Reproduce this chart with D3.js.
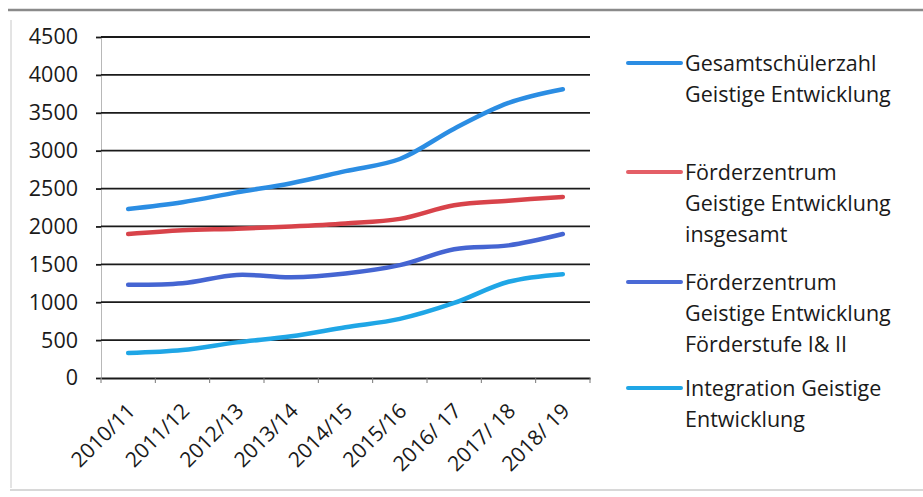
<!DOCTYPE html>
<html><head><meta charset="utf-8">
<script src="https://cdn.jsdelivr.net/npm/d3@7"></script>
<style>
html,body{margin:0;padding:0;background:#fff;}
svg{display:block;}
text{font-family:"Open Sans","Noto Sans",sans-serif;fill:#1a1a1a;}
</style></head>
<body><svg id="c" width="923" height="497"></svg>
<script>
const categories = ["2010/11","2011/12","2012/13","2013/14","2014/15","2015/16","2016/ 17","2017/ 18","2018/ 19"];
const gesamt      = [2230, 2320, 2450, 2570, 2730, 2890, 3290, 3630, 3810];
const fzInsgesamt = [1900, 1950, 1970, 2000, 2040, 2100, 2280, 2340, 2390];
const fzStufe     = [1230, 1250, 1360, 1330, 1380, 1490, 1700, 1750, 1900];
const integration = [ 330,  370,  470,  550,  670,  780,  990, 1270, 1370];
const yTicks = [0,500,1000,1500,2000,2500,3000,3500,4000,4500];
const seriesNames = [
  ["Gesamtschülerzahl","Geistige Entwicklung"],
  ["Förderzentrum","Geistige Entwicklung","insgesamt"],
  ["Förderzentrum","Geistige Entwicklung","Förderstufe I& II"],
  ["Integration Geistige","Entwicklung"]
];
const seriesColors = ["#2b8de3","#d8434a","#4565d2","#1fa6e6"];
const legendColors = ["#2b8de3","#e45f67","#4a6ad6","#1fa6e6"];
const seriesData = [gesamt, fzInsgesamt, fzStufe, integration];

const svg = d3.select("#c");
// frame
svg.append("line").attr("x1",8).attr("x2",923).attr("y1",10).attr("y2",10).attr("stroke","#8a8a8a").attr("stroke-width",2.5);
svg.append("line").attr("x1",11).attr("x2",11).attr("y1",20).attr("y2",488).attr("stroke","#c8c8c8").attr("stroke-width",1);
svg.append("line").attr("x1",10).attr("x2",923).attr("y1",490).attr("y2",490).attr("stroke","#d8d8d8").attr("stroke-width",2);

const x = d3.scaleBand().domain(categories).range([101,590]);
const y = d3.scaleLinear().domain([0,4500]).range([378,37]);

// grid + y axis
const yAxis = d3.axisLeft(y).tickValues(yTicks).tickFormat(d3.format("d")).tickSize(5).tickPadding(18);
const gy = svg.append("g").attr("transform","translate(101,0)").call(yAxis);
gy.select(".domain").attr("stroke","#b8b8b8").attr("stroke-width",1);
gy.selectAll(".tick line").attr("stroke","#1a1a1a").attr("stroke-width",1.8);
gy.selectAll(".tick text").attr("font-size",21.5).attr("fill","#1a1a1a").attr("font-family","Open Sans");
svg.append("g").selectAll("line").data(yTicks.filter(d=>d>0)).join("line")
  .attr("x1",101).attr("x2",590).attr("y1",d=>y(d)).attr("y2",d=>y(d))
  .attr("stroke","#1a1a1a").attr("stroke-width",1.8);

// x axis
const gx = svg.append("g").attr("transform","translate(0,378)").call(d3.axisBottom(x).tickSize(0).tickPadding(0));
gx.select(".domain").attr("stroke","#1a1a1a").attr("stroke-width",1.8);
gx.selectAll(".tick text").attr("font-size",21).attr("text-anchor","end")
  .attr("transform","translate(3,29) rotate(-45)").attr("dy","0.35em").attr("fill","#1a1a1a");
// band boundary ticks
const bounds = categories.map(c=>x(c)).concat([x.range()[1]]);
svg.append("g").selectAll("line").data(bounds).join("line")
  .attr("x1",d=>d).attr("x2",d=>d).attr("y1",378).attr("y2",383)
  .attr("stroke","#777").attr("stroke-width",1);

// lines
const line = d3.line().x((d,i)=>x(categories[i])+x.bandwidth()/2).y(d=>y(d)).curve(d3.curveCatmullRom.alpha(0.5));
seriesData.forEach((s,k)=>{
  svg.append("path").datum(s).attr("d",line).attr("fill","none")
    .attr("stroke",seriesColors[k]).attr("stroke-width",4.5).attr("stroke-linecap","round").attr("stroke-linejoin","round");
});

// legend
const legendY = [63,172,282,388];
const lg = svg.append("g");
seriesNames.forEach((lines,k)=>{
  lg.append("line").attr("x1",628).attr("x2",681).attr("y1",legendY[k]).attr("y2",legendY[k])
    .attr("stroke",legendColors[k]).attr("stroke-width",4).attr("stroke-linecap","round");
  lines.forEach((t,j)=>{
    lg.append("text").attr("x",685).attr("y",legendY[k]+j*31).attr("dy","0.35em")
      .attr("font-size",21.5).text(t);
  });
});
</script></body></html>
